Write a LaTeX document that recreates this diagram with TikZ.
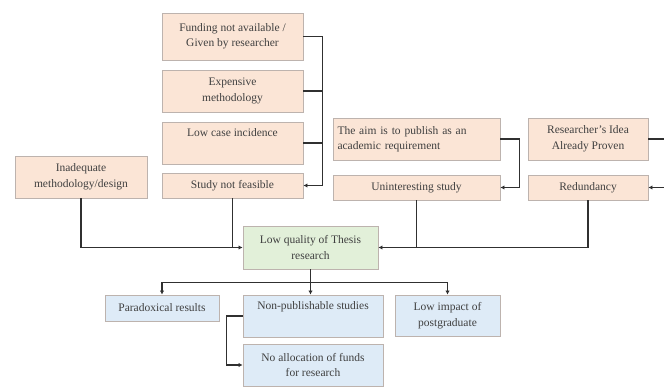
\documentclass[tikz,border=0pt]{standalone}
\usepackage{fontspec}
\setmainfont{Liberation Serif}
\usetikzlibrary{arrows.meta}
\definecolor{causefill}{HTML}{FBE5D6}
\definecolor{corefill}{HTML}{E2F0D9}
\definecolor{effectfill}{HTML}{DEEBF7}
\definecolor{boxline}{HTML}{BDB3AE}
\definecolor{linkline}{HTML}{303030}
\tikzset{
  box/.style={draw=boxline, line width=0.9pt, align=center, inner sep=2pt,
    text=black!75, font=\fontsize{11.5}{15.5}\selectfont},
  cause/.style={box, fill=causefill},
  core/.style={box, fill=corefill},
  effect/.style={box, fill=effectfill},
  link/.style={draw=linkline, line width=1.5pt},
  tip/.style={link, -{Latex[length=4pt,width=4.5pt]}}
}

\begin{document}
\begin{tikzpicture}[x=1pt,y=-1pt]
				\useasboundingbox (0,0) rectangle (664,387);
				
				% causes, left column
				\node[cause, minimum width=141pt, minimum height=47pt] (fund) at (232.5,36.5) {Funding not available /\\ Given by researcher};
				\node[cause, minimum width=141pt, minimum height=42pt] (expens) at (232.5,91) {Expensive\\ methodology};
				\node[cause, minimum width=141pt, minimum height=42pt] (lowcase) at (232.5,143) {Low case incidence\\ \strut};
				\node[cause, minimum width=141pt, minimum height=25pt] (notfeas) at (232.5,185.5) {Study not feasible};
				\node[cause, minimum width=132pt, minimum height=42pt] (inadeq) at (81,177) {Inadequate\\ methodology/design};
				
				% causes, right side
				\node[cause, minimum height=42pt, text width=158pt, align=left, inner xsep=4.5pt] (aim) at (416.5,139) {The aim is to publish as an\\ academic requirement};
				\node[cause, minimum width=167pt, minimum height=25pt] (unint) at (416.5,187.5) {Uninteresting study};
				\node[cause, minimum width=120pt, minimum height=42pt] (ideaprov) at (588,139) {Researcher's Idea\\ Already Proven};
				\node[cause, minimum width=120pt, minimum height=25pt] (redund) at (588,187.5) {Redundancy};
				
				% problem
				\node[core, minimum width=135pt, minimum height=43pt] (lowq) at (310.5,247.5) {Low quality of Thesis\\ research};
				
				% effects
				\node[effect, minimum width=114pt, minimum height=26pt] (parad) at (162,308) {Paradoxical results};
				\node[effect, minimum width=140pt, minimum height=42pt] (nonpub) at (313,316) {Non-publishable studies\\ \strut};
				\node[effect, minimum width=105pt, minimum height=41pt] (lowimp) at (447.5,315.5) {Low impact of\\ postgraduate};
				\node[effect, minimum width=140pt, minimum height=42pt] (noalloc) at (313,365) {No allocation of funds\\ for research};
				
				% brackets into the causes
				\draw[link] (fund.east) -- ++(19,0) coordinate (fbr);
				\draw[link] (expens.east) -- (expens.east -| fbr);
				\draw[link] (lowcase.east) -- (lowcase.east -| fbr);
				\draw[tip] (fbr) |- (notfeas.east);
				\draw[tip] (aim.east) -- ++(19,0) |- (unint.east);
				\draw[tip] (ideaprov.east) -- ++(20,0) |- (redund.east);
				
				% causes to problem
				\draw[tip] (inadeq.south) |- (lowq.west);
				\draw[link] (notfeas.south) -- (notfeas.south |- lowq.west);
				\draw[tip] (redund.south) |- (lowq.east);
				\draw[link] (unint.south) -- (unint.south |- lowq.east);
				
				% problem to effects
				\draw[link] (lowq.south) -- ++(0,13) coordinate (split);
				\draw[link] (parad.north |- split) -- (lowimp.north |- split);
				\draw[tip] (parad.north |- split) -- (parad.north);
				\draw[tip] (split) -- (split |- nonpub.north);
				\draw[tip] (lowimp.north |- split) -- (lowimp.north);
				\draw[tip] (nonpub.west) -- ++(-16,0) |- (noalloc.west);
			\end{tikzpicture}
\end{document}
